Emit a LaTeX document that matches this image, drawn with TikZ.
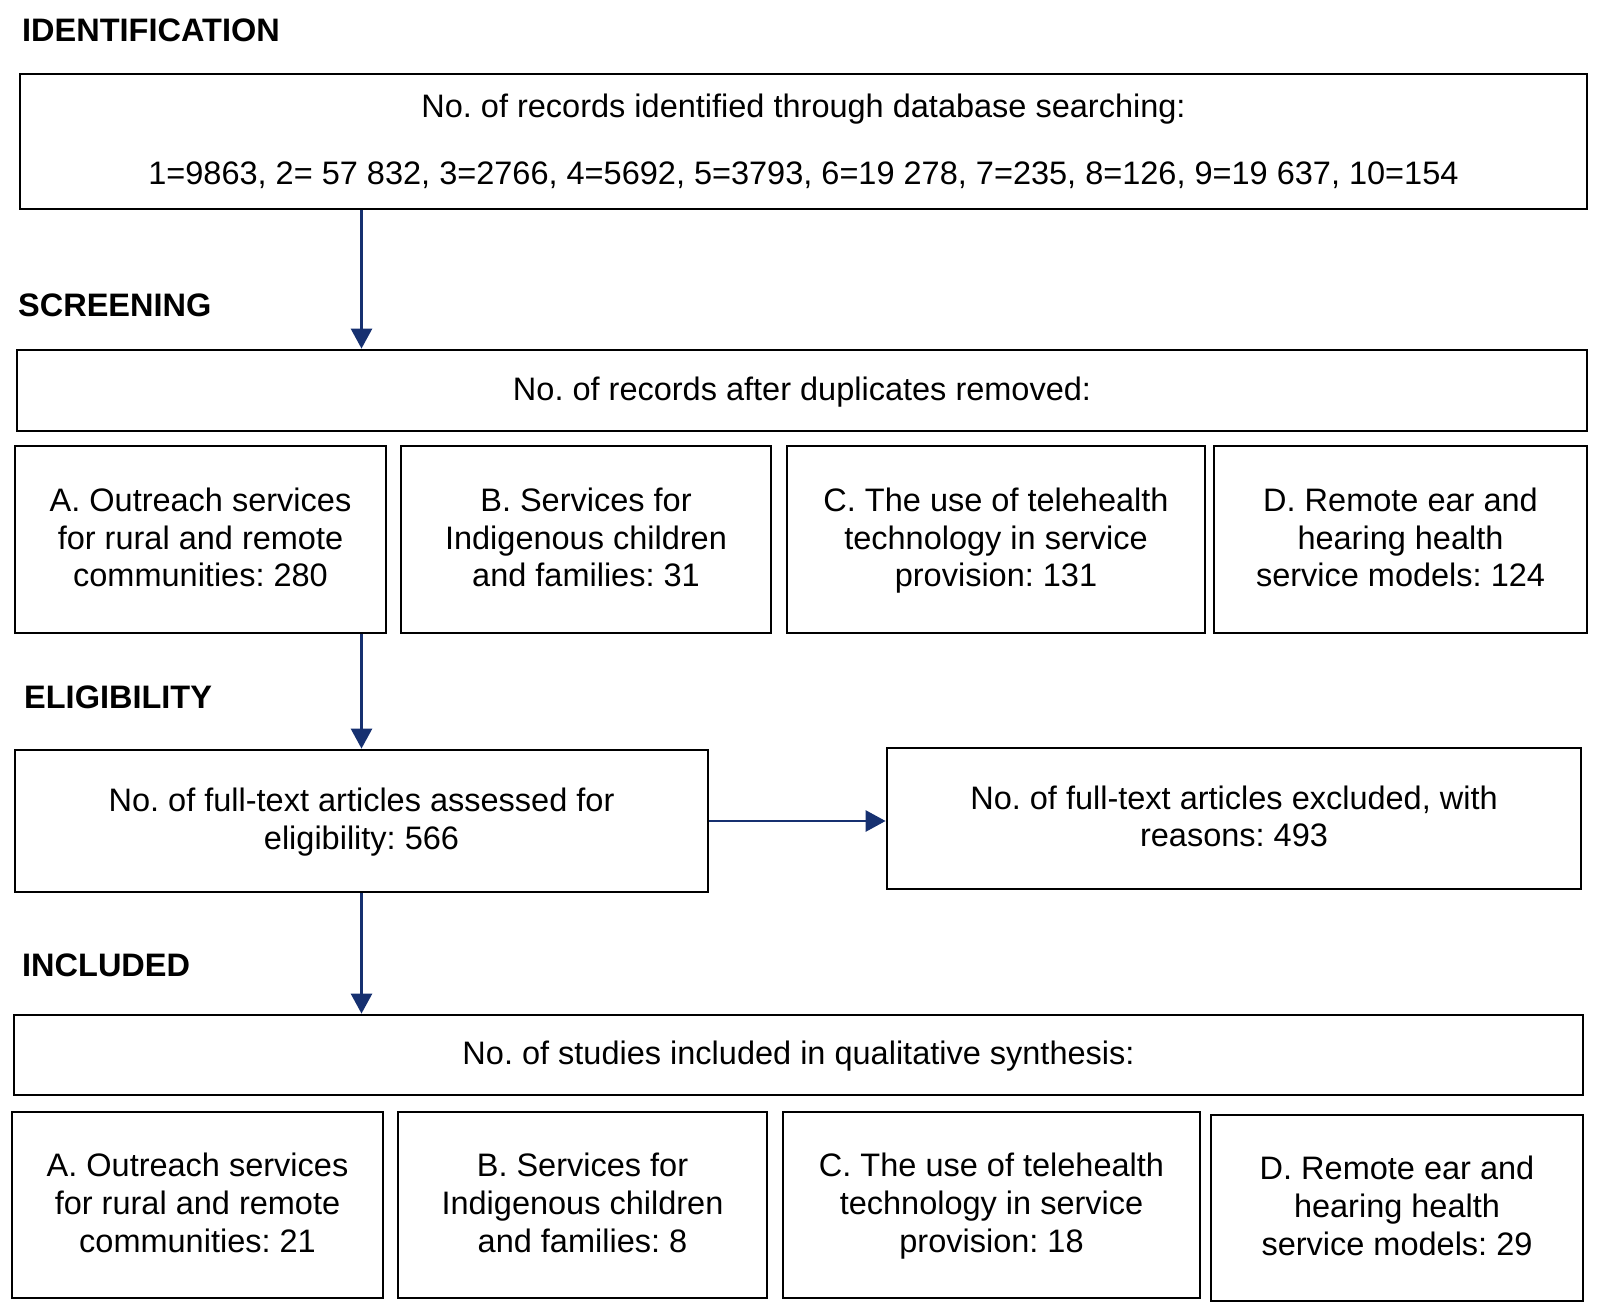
\documentclass[tikz,border=0pt]{standalone}
\usepackage{fontspec}
\setmainfont{Liberation Sans}
\usetikzlibrary{arrows.meta}
\definecolor{navy}{RGB}{22,48,112}
\frenchspacing
\newcommand\bs{\rule[-7pt]{0pt}{33pt}}

\begin{document}
\begin{tikzpicture}[x=1pt, y=-1pt,
		box/.style={draw, line width=2.8pt, align=center, inner sep=0pt, font=\fontsize{32.5}{37.8}\selectfont},
		phase/.style={anchor=west, inner sep=0pt, font=\fontsize{32.5}{37.8}\selectfont\bfseries},
		arr/.style={draw=navy, line width=2.8pt, -{Triangle[width=21pt,length=20pt]}, navy}]

		\useasboundingbox (0,0) rectangle (1600,1316);

		% phase labels
		\node[phase] (idlabel) at (22,30) {IDENTIFICATION};
		\node[phase] (scrlabel) at (18,305) {SCREENING};
		\node[phase] (elilabel) at (24,697) {ELIGIBILITY};
		\node[phase] (inclabel) at (22,965) {INCLUDED};

		% identification
		\node[box, minimum width=1567, minimum height=135] (search) at (803.5,141.5)
			{\bs No. of records identified through database searching:\\[29pt]
			1=9863, 2= 57 832, 3=2766, 4=5692, 5=3793, 6=19 278, 7=235, 8=126, 9=19 637, 10=154\bs};

		% screening
		\node[box, minimum width=1570, minimum height=81] (dups) at (802,390.5) {\bs No. of records after duplicates removed:\bs};

		\node[box, minimum width=371, minimum height=187] (scrA) at (200.5,539.5) {\bs A. Outreach services\\for rural and remote\\communities: 280\bs};
		\node[box, minimum width=370, minimum height=187] (scrB) at (586,539.5) {\bs B. Services for\\Indigenous children\\and families: 31\bs};
		\node[box, minimum width=418, minimum height=187] (scrC) at (996,539.5) {\bs C. The use of telehealth\\technology in service\\provision: 131\bs};
		\node[box, minimum width=373, minimum height=187] (scrD) at (1400.5,539.5) {\bs D. Remote ear and\\hearing health\\service models: 124\bs};

		% eligibility
		\node[box, minimum width=693, minimum height=142] (assess) at (361.5,821) {\bs No. of full-text articles assessed for\\eligibility: 566\bs};
		\node[box, minimum width=694, minimum height=141] (excl) at (1234,818.5) {\bs No. of full-text articles excluded, with\\reasons: 493\bs};

		% included
		\node[box, minimum width=1569, minimum height=80] (synth) at (798.5,1055) {\bs No. of studies included in qualitative synthesis:\bs};

		\node[box, minimum width=371, minimum height=186] (incA) at (197.5,1205) {\bs A. Outreach services\\for rural and remote\\communities: 21\bs};
		\node[box, minimum width=369, minimum height=186] (incB) at (582.5,1205) {\bs B. Services for\\Indigenous children\\and families: 8\bs};
		\node[box, minimum width=417, minimum height=186] (incC) at (991.5,1205) {\bs C. The use of telehealth\\technology in service\\provision: 18\bs};
		\node[box, minimum width=372, minimum height=186] (incD) at (1397,1208) {\bs D. Remote ear and\\hearing health\\service models: 29\bs};

		% arrows
		\draw[arr] (search.south -| assess) -- (dups.north -| assess);
		\draw[arr] (scrA.south -| assess) -- (assess.north);
		\draw[arr] (assess.east) -- (excl.west |- assess);
		\draw[arr] (assess.south) -- (synth.north -| assess);

	\end{tikzpicture}
\end{document}
